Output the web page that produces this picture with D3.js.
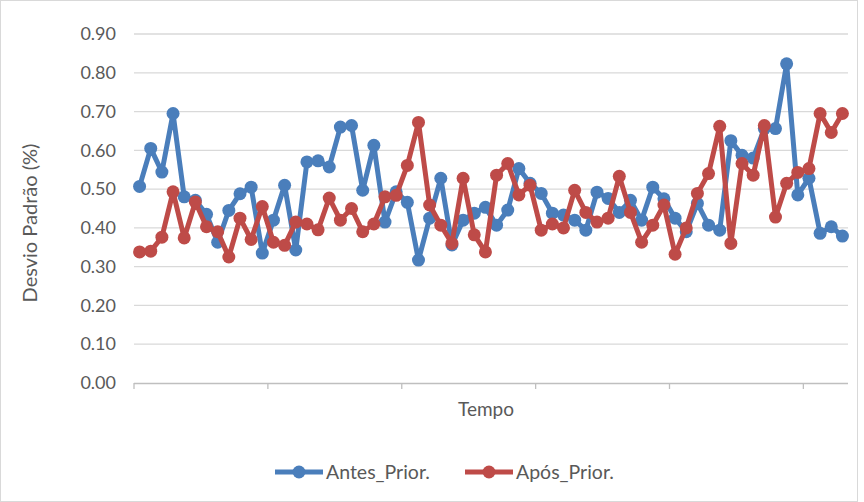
<!DOCTYPE html>
<html>
<head>
<meta charset="utf-8">
<script src="https://cdn.jsdelivr.net/npm/d3@7"></script>
<style>
  html, body { margin: 0; padding: 0; background: #fff; }
  svg { display: block; }
  text { font-family: "Lato", "Open Sans", sans-serif; fill: #595959; }
</style>
</head>
<body>
<svg id="chart" width="864" height="502"></svg>
<script>
// Standard deviation per time step, before and after prioritisation
const antesPrior = [
  0.507, 0.605, 0.544, 0.695, 0.480, 0.471, 0.435, 0.363, 0.445, 0.488,
  0.505, 0.335, 0.420, 0.510, 0.343, 0.570, 0.573, 0.557, 0.660, 0.664,
  0.497, 0.613, 0.415, 0.493, 0.466, 0.317, 0.425, 0.528, 0.356, 0.420,
  0.438, 0.453, 0.407, 0.446, 0.553, 0.515, 0.489, 0.438, 0.433, 0.420,
  0.394, 0.492, 0.476, 0.440, 0.471, 0.420, 0.505, 0.475, 0.425, 0.390,
  0.463, 0.407, 0.394, 0.625, 0.587, 0.580, 0.656, 0.656, 0.823, 0.485,
  0.528, 0.386, 0.403, 0.379
];
const aposPrior = [
  0.338, 0.340, 0.376, 0.493, 0.374, 0.467, 0.403, 0.390, 0.325, 0.425,
  0.370, 0.455, 0.363, 0.355, 0.415, 0.410, 0.395, 0.477, 0.420, 0.450,
  0.390, 0.410, 0.480, 0.484, 0.561, 0.672, 0.459, 0.407, 0.360, 0.528,
  0.382, 0.338, 0.536, 0.566, 0.485, 0.510, 0.394, 0.410, 0.400, 0.497,
  0.440, 0.415, 0.425, 0.533, 0.440, 0.363, 0.407, 0.459, 0.332, 0.400,
  0.489, 0.540, 0.662, 0.360, 0.566, 0.536, 0.664, 0.428, 0.515, 0.543,
  0.553, 0.695, 0.646, 0.695
];
const seriesNames = ["Antes_Prior.", "Após_Prior."];
const seriesColors = ["#4a7ebb", "#be4b48"];
const yTicks = [0, 0.1, 0.2, 0.3, 0.4, 0.5, 0.6, 0.7, 0.8, 0.9];
const tickEvery = 12;

const svg = d3.select("#chart");
const plotLeft = 134, plotRight = 848, plotTop = 34, plotBottom = 383;

// chart area border
svg.append("rect")
  .attr("x", 0.5).attr("y", 0.5).attr("width", 857).attr("height", 501)
  .attr("fill", "#fff").attr("stroke", "#d9d9d9");

const idx = d3.range(antesPrior.length);
const x = d3.scaleBand().domain(idx).range([plotLeft, plotRight]).padding(0);
const y = d3.scaleLinear().domain([0, 0.9]).range([plotBottom, plotTop]);
const cx = i => x(i) + x.bandwidth() / 2;

// horizontal gridlines
svg.append("g").selectAll("line")
  .data(yTicks.filter(t => t > 0))
  .join("line")
  .attr("x1", plotLeft).attr("x2", plotRight)
  .attr("y1", d => y(d)).attr("y2", d => y(d))
  .attr("stroke", "#d9d9d9").attr("stroke-width", 1.3);

// y axis labels
const yAxis = d3.axisLeft(y).tickValues(yTicks).tickFormat(d3.format(".2f")).tickSize(0).tickPadding(18);
const gy = svg.append("g").attr("transform", `translate(${plotLeft},0)`).call(yAxis);
gy.select(".domain").remove();
gy.selectAll("text").style("font-size", "18px").attr("fill", "#595959");

// category axis with a tick every 12 steps
const xAxis = d3.axisBottom(x)
  .tickValues(idx.filter(i => i % tickEvery === 0))
  .tickFormat("")
  .tickSize(6)
  .offset(0);
const gx = svg.append("g").attr("transform", `translate(0,${plotBottom})`).call(xAxis);
gx.selectAll(".tick").attr("transform", d => `translate(${x(d)},0)`);
gx.select(".domain").attr("d", `M${plotLeft},0.5H${plotRight}`).attr("stroke", "#bfbfbf").attr("stroke-width", 1.3);
gx.selectAll(".tick line").attr("stroke", "#bfbfbf").attr("stroke-width", 1.3);

// axis titles
svg.append("text")
  .attr("x", 486).attr("y", 416)
  .attr("text-anchor", "middle").style("font-size", "19px")
  .text("Tempo");
svg.append("text")
  .attr("transform", `translate(37,223) rotate(-90)`)
  .attr("text-anchor", "middle").style("font-size", "20px")
  .text("Desvio Padrão (%)");

// series lines and markers
const line = d3.line().x((d, i) => cx(i)).y(d => y(d));
[antesPrior, aposPrior].forEach((vals, s) => {
  const g = svg.append("g");
  g.append("path").datum(vals)
    .attr("d", line).attr("fill", "none")
    .attr("stroke", seriesColors[s]).attr("stroke-width", 5)
    .attr("stroke-linejoin", "round");
  g.selectAll("circle").data(vals).join("circle")
    .attr("cx", (d, i) => cx(i)).attr("cy", d => y(d))
    .attr("r", 6.5).attr("fill", seriesColors[s]);
});

// legend
const legendItems = [{ x: 275 }, { x: 465 }];
legendItems.forEach((it, s) => {
  const g = svg.append("g").attr("transform", `translate(${it.x},472)`);
  g.append("line").attr("x1", 0).attr("x2", 48).attr("y1", 0).attr("y2", 0)
    .attr("stroke", seriesColors[s]).attr("stroke-width", 5);
  g.append("circle").attr("cx", 24).attr("cy", 0).attr("r", 6.5).attr("fill", seriesColors[s]);
  g.append("text").attr("x", 51).attr("y", 0).attr("dy", "0.35em")
    .style("font-size", "19.5px").text(seriesNames[s]);
});
</script>
</body>
</html>
